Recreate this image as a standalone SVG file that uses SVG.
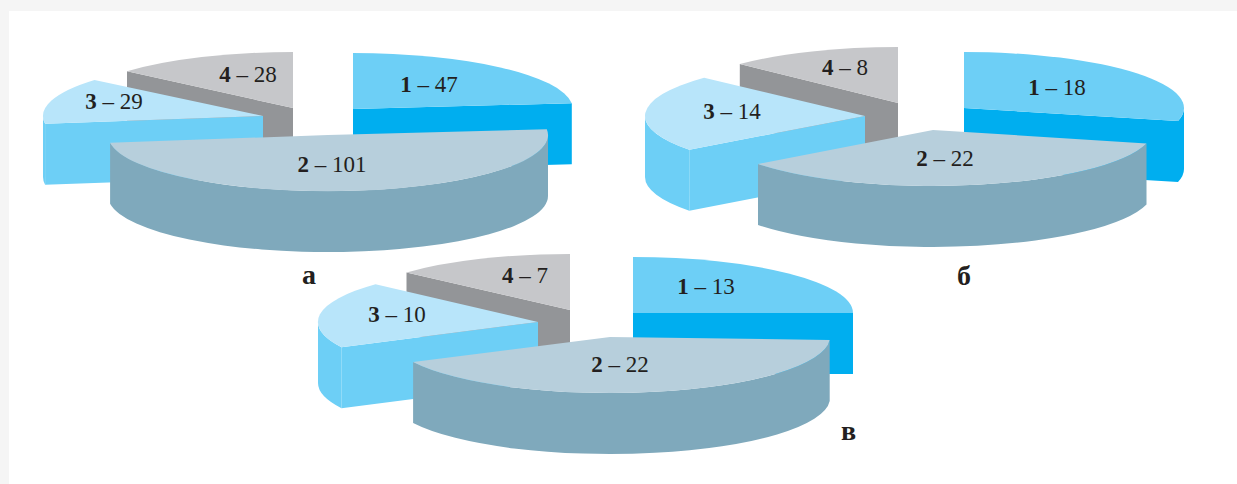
<svg xmlns="http://www.w3.org/2000/svg" width="1237" height="484" viewBox="0 0 1237 484">
<style>
.t1{fill:#6dcff6}.s1{fill:#00aeef}
.t2{fill:#b7cfdc}.s2{fill:#7fa9bc}
.t3{fill:#b8e5fa}.s3{fill:#6dcff6}
.t4{fill:#c6c7ca}.s4{fill:#939598}
text{font-family:"Liberation Serif","Times New Roman",serif;fill:#231f20}
.lb{font-size:23px;text-anchor:middle}
.cap{font-size:28px;font-weight:bold}
</style>
<rect width="1237" height="484" fill="#f5f5f5"/>
<rect x="9" y="11" width="1228" height="473" fill="#ffffff"/>

<g id="chart-a">
  <g id="a-slice4">
    <path class="s4" d="M293,108 L127,71.3 L127,132.3 L293,169 Z"/>
    <path class="t4" d="M293,108 L127,71.3 A220,56 0 0 1 293,52 Z"/>
    <text class="lb" x="248" y="82"><tspan font-weight="bold">4</tspan> – 28</text>
  </g>
  <g id="a-slice1">
    <path class="s1" d="M353,109 L571.8,103.2 L571.8,164.2 L353,170 Z"/>
    <path class="t1" d="M353,109 L353,53 A220,56 0 0 1 571.8,103.2 Z"/>
    <text class="lb" x="429" y="92"><tspan font-weight="bold">1</tspan> – 47</text>
  </g>
  <g id="a-slice3">
    <path class="s3" d="M263,116 L45.1,123.8 L45.1,184.8 L263,177 Z"/>
    <path class="s3" d="M45.1,123.8 A220,56 0 0 1 43,116 L43,177 A220,56 0 0 0 45.1,184.8 Z"/>
    <path class="t3" d="M263,116 L45.1,123.8 A220,56 0 0 1 94.5,80 Z"/>
    <text class="lb" x="114" y="109"><tspan font-weight="bold">3</tspan> – 29</text>
  </g>
  <g id="a-slice2">
    <path class="s2" d="M548,135 A220,56 0 0 1 110.1,142.8 L110.1,203.8 A220,56 0 0 0 548,196 Z"/>
    <path class="t2" d="M328,135 L546.8,129.2 A220,56 0 0 1 110.1,142.8 Z"/>
    <text class="lb" x="332" y="172"><tspan font-weight="bold">2</tspan> – 101</text>
  </g>
  <text id="a-caption" class="cap" x="302" y="284">а</text>
</g>

<g id="chart-b">
  <g id="b-slice4">
    <path class="s4" d="M898,103 L739.8,64.1 L739.8,125.1 L898,164 Z"/>
    <path class="t4" d="M898,103 L739.8,64.1 A220,56 0 0 1 898,47 Z"/>
    <text class="lb" x="845" y="75"><tspan font-weight="bold">4</tspan> – 8</text>
  </g>
  <g id="b-slice1">
    <path class="s1" d="M964,108 L1178,121 L1178,182 L964,169 Z"/>
    <path class="s1" d="M1184,108 A220,56 0 0 1 1178,121 L1178,182 A220,56 0 0 0 1184,169 Z"/>
    <path class="t1" d="M964,108 L964,52 A220,56 0 0 1 1178,121 Z"/>
    <text class="lb" x="1057" y="95"><tspan font-weight="bold">1</tspan> – 18</text>
  </g>
  <g id="b-slice3">
    <path class="s3" d="M865,116 L689.3,149.7 L689.3,210.7 L865,177 Z"/>
    <path class="s3" d="M689.3,149.7 A220,56 0 0 1 645,116 L645,177 A220,56 0 0 0 689.3,210.7 Z"/>
    <path class="t3" d="M865,116 L689.3,149.7 A220,56 0 0 1 704.1,77.8 Z"/>
    <text class="lb" x="732" y="119"><tspan font-weight="bold">3</tspan> – 14</text>
  </g>
  <g id="b-slice2">
    <path class="s2" d="M1146.5,143.5 A220,56 0 0 1 758,163.9 L758,224.9 A220,56 0 0 0 1146.5,204.5 Z"/>
    <path class="t2" d="M933,130 L1146.5,143.5 A220,56 0 0 1 758,163.9 Z"/>
    <text class="lb" x="945" y="166"><tspan font-weight="bold">2</tspan> – 22</text>
  </g>
  <text id="b-caption" class="cap" x="957" y="285">б</text>
</g>

<g id="chart-c">
  <g id="c-slice4">
    <path class="s4" d="M570,310 L406.5,272.5 L406.5,333.5 L570,371 Z"/>
    <path class="t4" d="M570,310 L406.5,272.5 A220,56 0 0 1 570,254 Z"/>
    <text class="lb" x="525" y="283"><tspan font-weight="bold">4</tspan> – 7</text>
  </g>
  <g id="c-slice1">
    <path class="s1" d="M633,313 L853,313 L853,374 L633,374 Z"/>
    <path class="t1" d="M633,313 L633,257 A220,56 0 0 1 853,313 Z"/>
    <text class="lb" x="706" y="294"><tspan font-weight="bold">1</tspan> – 13</text>
  </g>
  <g id="c-slice3">
    <path class="s3" d="M538,322 L341.5,347.2 L341.5,408.2 L538,383 Z"/>
    <path class="s3" d="M341.5,347.2 A220,56 0 0 1 318,322 L318,383 A220,56 0 0 0 341.5,408.2 Z"/>
    <path class="t3" d="M538,322 L341.5,347.2 A220,56 0 0 1 375.5,284.2 Z"/>
    <text class="lb" x="397" y="322"><tspan font-weight="bold">3</tspan> – 10</text>
  </g>
  <g id="c-slice2">
    <path class="s2" d="M829.7,339.9 A220,56 0 0 1 413.1,362 L413.1,423 A220,56 0 0 0 829.7,400.9 Z"/>
    <path class="t2" d="M610,337 L829.7,339.9 A220,56 0 0 1 413.1,362 Z"/>
    <text class="lb" x="620" y="372"><tspan font-weight="bold">2</tspan> – 22</text>
  </g>
  <text id="c-caption" class="cap" x="841" y="440">в</text>
</g>
</svg>
